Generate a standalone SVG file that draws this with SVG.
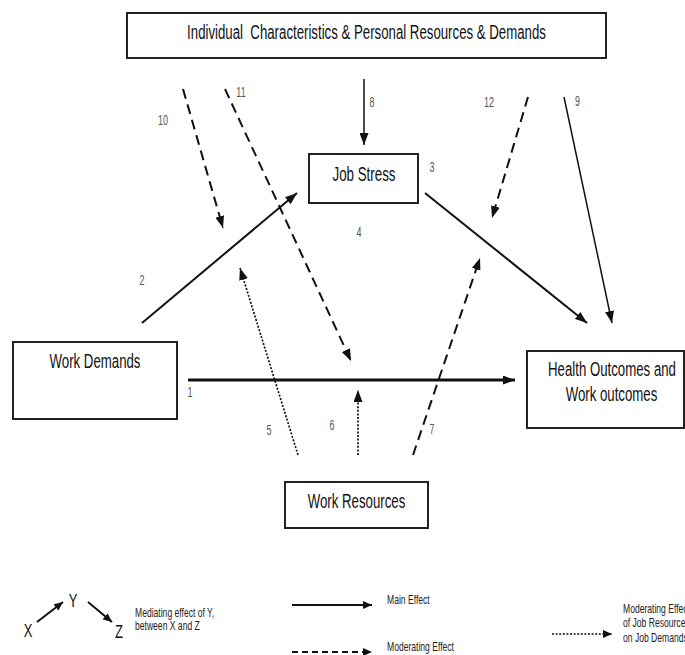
<svg xmlns="http://www.w3.org/2000/svg" width="685" height="655" viewBox="0 0 685 655">
<defs>
<style>
.box{fill:#fff;stroke:#222;stroke-width:2}
.t{font-family:"Liberation Sans",Arial,sans-serif;fill:#111;text-anchor:middle}
.big{font-size:21px}
.num{font-family:"Liberation Sans",Arial,sans-serif;font-size:14px;fill:#555;text-anchor:middle}
.leg{font-family:"Liberation Sans",Arial,sans-serif;font-size:13px;fill:#222}
.ln{fill:none;stroke:#111}
.solid{stroke-width:2}
.thin{stroke-width:1.5}
.thick{stroke-width:3}
.dash{stroke-width:2;stroke-dasharray:10 6}
.dot{stroke-width:1.7;stroke-dasharray:2 1.6}
</style>
<marker id="ah" viewBox="0 0 12 9" refX="12" refY="4.5" markerWidth="12" markerHeight="9" markerUnits="userSpaceOnUse" orient="auto"><path d="M0,0 L12,4.5 L0,9 z" fill="#111"/></marker>
<marker id="ahs" viewBox="0 0 9 8" refX="9" refY="4" markerWidth="9" markerHeight="8" markerUnits="userSpaceOnUse" orient="auto"><path d="M0,0 L9,4 L0,8 z" fill="#111"/></marker>
</defs>
<rect width="685" height="655" fill="#fff"/>

<g id="individual">
<rect class="box" x="127" y="13" width="479" height="45"/>
<text class="t big" transform="translate(366.5,39) scale(0.63,1)" xml:space="preserve">Individual  Characteristics &amp; Personal Resources &amp; Demands</text>
</g>

<g id="job-stress">
<rect class="box" x="309" y="154" width="109" height="49"/>
<text class="t big" transform="translate(364,181) scale(0.635,1)">Job Stress</text>
</g>

<g id="work-demands">
<rect class="box" x="13" y="342" width="164" height="77"/>
<text class="t big" transform="translate(95,368) scale(0.63,1)">Work Demands</text>
</g>

<g id="health-outcomes">
<rect class="box" x="527" y="351" width="157" height="77"/>
<text class="t big" transform="translate(612,376) scale(0.63,1)">Health Outcomes and</text>
<text class="t big" transform="translate(611.5,401) scale(0.63,1)">Work outcomes</text>
</g>

<g id="work-resources">
<rect class="box" x="285" y="482" width="143" height="46"/>
<text class="t big" transform="translate(356.5,508) scale(0.63,1)">Work Resources</text>
</g>

<g id="connectors">
<line class="ln thick" x1="188" y1="380" x2="515" y2="380" marker-end="url(#ah)"/>
<line class="ln solid" x1="142" y1="323" x2="297" y2="193" marker-end="url(#ah)"/>
<line class="ln solid" x1="425" y1="193" x2="587" y2="323" marker-end="url(#ah)"/>
<line class="ln thin" x1="364" y1="79" x2="364" y2="145" marker-end="url(#ah)"/>
<line class="ln thin" x1="564" y1="97" x2="612" y2="323" marker-end="url(#ah)"/>
<line class="ln dash" x1="183" y1="89" x2="223" y2="228" marker-end="url(#ah)"/>
<line class="ln dash" x1="225" y1="89" x2="351" y2="361" marker-end="url(#ah)"/>
<line class="ln dash" x1="528" y1="97" x2="492" y2="218" marker-end="url(#ah)"/>
<line class="ln dot" x1="298" y1="455" x2="240" y2="268" marker-end="url(#ah)"/>
<line class="ln dot" x1="358" y1="455" x2="358" y2="390" marker-end="url(#ah)"/>
<line class="ln dash" x1="413" y1="455" x2="480" y2="258" marker-end="url(#ah)"/>
</g>

<g id="labels">
<text class="num" transform="translate(190,397) scale(0.64,1)">1</text>
<text class="num" transform="translate(142,285) scale(0.64,1)">2</text>
<text class="num" transform="translate(432,172) scale(0.64,1)">3</text>
<text class="num" transform="translate(359,237) scale(0.64,1)">4</text>
<text class="num" transform="translate(269,435) scale(0.64,1)">5</text>
<text class="num" transform="translate(332,430) scale(0.64,1)">6</text>
<text class="num" transform="translate(432,434) scale(0.64,1)">7</text>
<text class="num" transform="translate(372,107) scale(0.64,1)">8</text>
<text class="num" transform="translate(577.5,106) scale(0.64,1)">9</text>
<text class="num" transform="translate(163,125) scale(0.64,1)">10</text>
<text class="num" transform="translate(241,97) scale(0.64,1)">11</text>
<text class="num" transform="translate(489,107) scale(0.64,1)">12</text>
</g>

<g id="legend">
<text class="t" font-size="18" transform="translate(28,637) scale(0.72,1)">X</text>
<text class="t" font-size="18" transform="translate(73,607) scale(0.72,1)">Y</text>
<text class="t" font-size="18" transform="translate(119,638) scale(0.72,1)">Z</text>
<line class="ln solid" x1="37" y1="622" x2="63" y2="602" marker-end="url(#ahs)"/>
<line class="ln solid" x1="88" y1="602" x2="112" y2="622" marker-end="url(#ahs)"/>
<text class="leg" transform="translate(135,617) scale(0.66,1)">Mediating effect of Y,</text>
<text class="leg" transform="translate(135,630) scale(0.66,1)">between X and Z</text>

<line class="ln solid" x1="292" y1="605" x2="372" y2="605" marker-end="url(#ahs)"/>
<text class="leg" transform="translate(387,604) scale(0.66,1)">Main Effect</text>
<line class="ln" stroke-width="2" stroke-dasharray="6 4" x1="292" y1="652" x2="372" y2="652" marker-end="url(#ahs)"/>
<text class="leg" transform="translate(387,651) scale(0.66,1)">Moderating Effect</text>

<line class="ln dot" x1="552" y1="634" x2="612" y2="634" marker-end="url(#ahs)"/>
<text class="leg" transform="translate(623,613) scale(0.66,1)">Moderating Effect</text>
<text class="leg" transform="translate(623,627) scale(0.66,1)">of Job Resources</text>
<text class="leg" transform="translate(623,642) scale(0.66,1)">on Job Demands</text>
</g>
</svg>
